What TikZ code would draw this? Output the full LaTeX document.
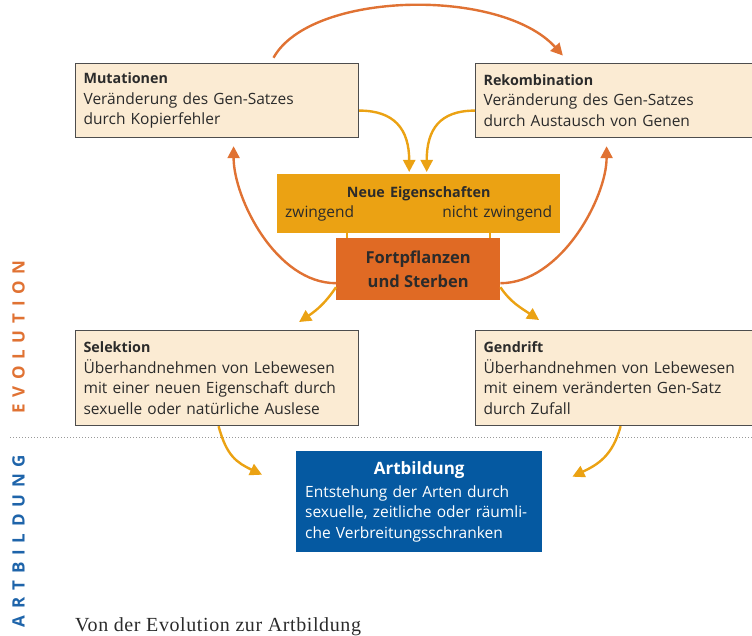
\documentclass[tikz,border=0pt]{standalone}
\usepackage{fontspec}
\setmainfont{Open Sans}
\newfontfamily\capfont[LetterSpace=3]{Liberation Serif}
\usetikzlibrary{arrows.meta,calc}

\definecolor{boxfill}{HTML}{FBEBD3}
\definecolor{boxline}{HTML}{4D4D4D}
\definecolor{amber}{HTML}{EBA213}
\definecolor{rust}{HTML}{E06A24}
\definecolor{arrorange}{HTML}{E07233}
\definecolor{artblue}{HTML}{0559A1}
\definecolor{labelblue}{HTML}{1E64AA}
\definecolor{txt}{HTML}{2B2B2B}

\tikzset{
  x=1pt, y=-1pt,
  bodyfont/.style={font=\fontsize{15.5}{20.5}\selectfont},
  infobox/.style={draw=boxline, line width=1.2pt, fill=boxfill, anchor=north west,
    text width=267pt, inner xsep=8pt, inner ysep=0pt, align=left, text=txt, bodyfont},
  arr/.style={line width=2.4pt, -{Triangle[length=12pt,width=12pt]}},
  orangearr/.style={arr, draw=arrorange},
  yellowarr/.style={arr, draw=amber},
  link/.style={draw=amber, line width=2pt},
  sidelabel/.style={rotate=90, inner sep=0pt,
    font=\fontsize{17}{17}\selectfont\bfseries\addfontfeatures{LetterSpace=40}},
}
\newcommand\boxhead[1]{{\fontsize{14.3}{20.5}\selectfont\bfseries #1}}

\begin{document}
\begin{tikzpicture}
\useasboundingbox (0,0) rectangle (752,636);

% upper row: sources of genetic change
\node[infobox, minimum height=74pt] (mut) at (75,63)
  {\boxhead{Mutationen}\\Veränderung des Gen-Satzes\\durch Kopierfehler};
\node[infobox, minimum height=74pt] (rek) at (475,63)
  {\boxhead{Rekombination}\\Veränderung des Gen-Satzes\\durch Austausch von Genen};

% centre: new traits and reproduction
\node[fill=amber, anchor=north west, minimum width=283pt, minimum height=59pt,
      text width=267pt, inner xsep=8pt, inner ysep=0pt, align=left, text=txt, bodyfont] (neue) at (277,174)
  {\makebox[267pt][c]{\boxhead{Neue Eigenschaften}}\\\makebox[267pt]{zwingend\hfill nicht zwingend}};
\node[fill=rust, anchor=north west, minimum width=164pt, minimum height=62pt,
      inner sep=0pt, align=center, text=txt,
      font=\fontsize{16.5}{24}\selectfont\bfseries] (fort) at (336,238)
  {Fortpflanzen\\und Sterben};

% lower row: selection and drift
\node[infobox, minimum height=95pt] (sel) at (75,330)
  {\boxhead{Selektion}\\Überhandnehmen von Lebewesen\\mit einer neuen Eigenschaft durch\\sexuelle oder natürliche Auslese};
\node[infobox, minimum height=95pt] (gen) at (475,330)
  {\boxhead{Gendrift}\\Überhandnehmen von Lebewesen\\mit einem veränderten Gen-Satz\\durch Zufall};

% speciation
\node[fill=artblue, anchor=north west, minimum width=246pt, minimum height=101pt,
      text width=228pt, inner xsep=9pt, inner ysep=0pt, align=left, text=white, bodyfont] (art) at (296,451)
  {\makebox[228pt][c]{\fontsize{17}{22}\selectfont\bfseries Artbildung}\\[2pt]Entstehung der Arten durch\\sexuelle, zeitliche oder räumli-\\che Verbreitungsschranken};

% separator between the two levels
\draw[dotted, line width=1pt, gray!80] (10,437) -- (752,437);

% side labels
\node[sidelabel, text=arrorange] (evo) at (18.5,337) {EVOLUTION};
\node[sidelabel, text=labelblue] (artlabel) at (18.5,541) {ARTBILDUNG};

% caption
\node[anchor=base west, inner sep=0pt, text=txt, font=\capfont\fontsize{20}{22}\selectfont] (cap) at (75,631)
  {Von der Evolution zur Artbildung};

% short links between the two centre boxes
\draw[link] ([xshift=-71.5pt]neue.south) -- ([xshift=-71.5pt]neue.south |- fort.north);
\draw[link] ([xshift=71.5pt]neue.south) -- ([xshift=71.5pt]neue.south |- fort.north);

% arcs
\draw[orangearr, shorten <=6pt, shorten >=10pt]
  ([xshift=53.5pt]mut.north) .. controls +(40,-72) and +(-69,-76) .. ([xshift=-47.5pt]rek.north);
\draw[yellowarr, shorten >=2pt]
  ([yshift=-10pt]mut.east) .. controls +(35,0) and +(0,-45) .. ([xshift=-9.5pt]neue.north);
\draw[yellowarr, shorten >=2pt]
  ([yshift=-10pt]rek.west) .. controls +(-35,0) and +(0,-45) .. ([xshift=8pt]neue.north);
\draw[orangearr, shorten >=8pt]
  ([yshift=-14pt]fort.west) .. controls +(-60,0) and +(0,60) .. ([xshift=16.5pt]mut.south);
\draw[orangearr, shorten >=8pt]
  ([yshift=-14pt]fort.east) .. controls +(60,0) and +(0,60) .. ([xshift=-10.5pt]rek.south);
\draw[yellowarr]
  ([yshift=-18pt]fort.west) .. controls +(-10,15) and +(18,-12) .. ($(sel.north)+(82,-8)$);
\draw[yellowarr]
  ([yshift=-18pt]fort.east) .. controls +(10,15) and +(-18,-12) .. ($(gen.north)+(-78,-10)$);
\draw[yellowarr]
  ([xshift=1.5pt]sel.south) .. controls +(8,30) and +(-25,-12) .. ($(art.west)+(-34,-27)$);
\draw[yellowarr]
  ([xshift=3.5pt]gen.south) .. controls +(-8,30) and +(25,-12) .. ($(art.east)+(30,-25)$);
\end{tikzpicture}
\end{document}
